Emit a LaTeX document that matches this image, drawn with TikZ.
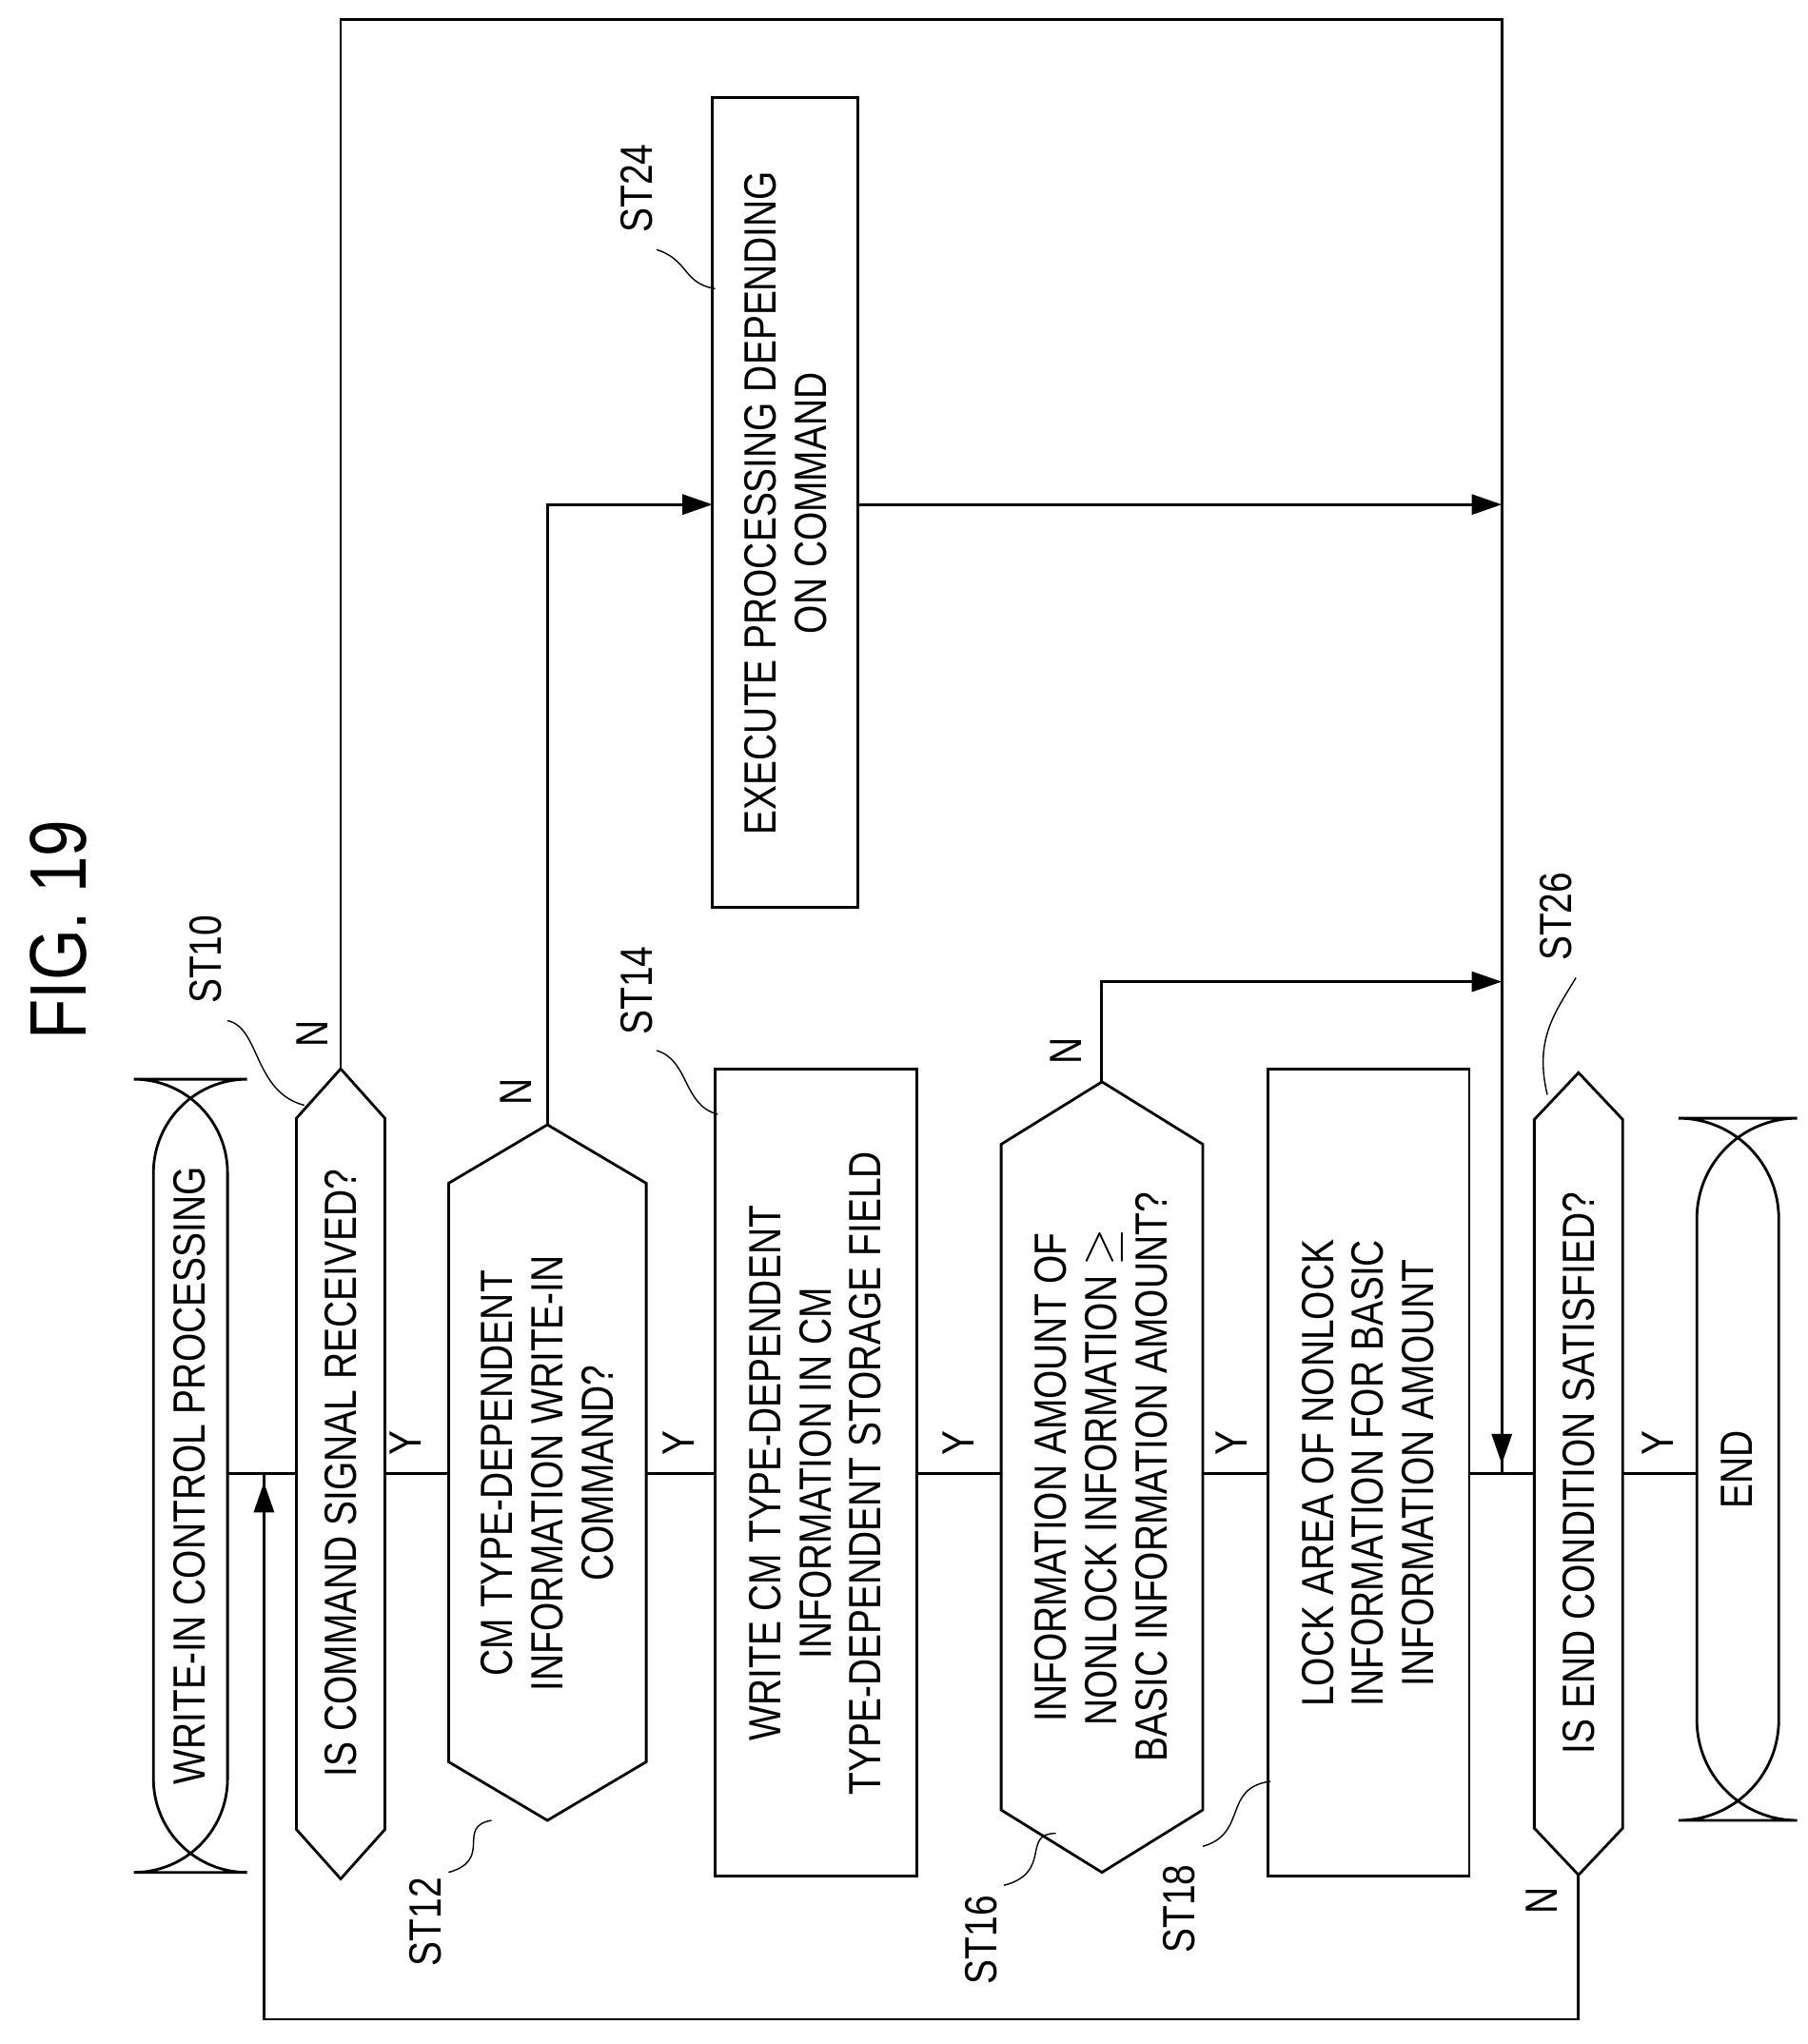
\documentclass[tikz,border=0pt]{standalone}
\usepackage{fontspec}
\setmainfont{Liberation Sans}[FakeStretch=0.82]
\usetikzlibrary{arrows.meta}
\tikzset{font=\fontsize{13.5}{15}\selectfont}
\newcommand\hexbox[5]{\draw[thick] ({#1},{#3+#5}) -- ({(#1+#2)/2},#3) -- ({#2},{#3+#5}) -- ({#2},{#4-#5}) -- ({(#1+#2)/2},#4) -- ({#1},{#4-#5}) -- cycle;}

\begin{document}
\begin{tikzpicture}[x=0.01365cm,y=-0.01365cm,
    txt/.style={rotate=90,align=center,inner sep=0pt},
    lbl/.style={rotate=90,inner sep=1pt},
    flow/.style={thick},
    arr/.style={thick,-{Triangle[length=9pt,width=6pt]}},
    squig/.style={thin}]
  \useasboundingbox (0,0) rectangle (1390,1572);

  \node[txt,font=\fontsize{24}{26}\selectfont] (title) at (45,715) {FIG. 19};

  % shapes
  \draw[thick,rounded corners=28] (118,830) rectangle (175,1440);
  \node[txt] (start) at (146,1135) {WRITE-IN CONTROL PROCESSING};
  \hexbox{228}{296}{822}{1445}{38}
  \node[txt] (st10) at (262,1133) {IS COMMAND SIGNAL RECEIVED?};
  \hexbox{345}{497}{865}{1400}{45}
  \node[txt] (st12) at (421,1133) {CM TYPE-DEPENDENT\\INFORMATION WRITE-IN\\COMMAND?};
  \draw[thick] (550,822) rectangle (705,1443);
  \node[txt] (st14) at (627,1133) {WRITE CM TYPE-DEPENDENT\\INFORMATION IN CM\\TYPE-DEPENDENT STORAGE FIELD};
  \hexbox{770}{925}{832}{1440}{48}
  \node[txt] (st16) at (847,1136) {INFORMATION AMOUNT OF\\NONLOCK INFORMATION $\geq$\\BASIC INFORMATION AMOUNT?};
  \draw[thick] (975,822) rectangle (1130,1443);
  \node[txt] (st18) at (1052,1133) {LOCK AREA OF NONLOCK\\INFORMATION FOR BASIC\\INFORMATION AMOUNT};
  \hexbox{1180}{1248}{825}{1442}{36}
  \node[txt] (st26) at (1214,1133) {IS END CONDITION SATISFIED?};
  \draw[thick,rounded corners=30] (1305,860) rectangle (1368,1400);
  \node[txt] (end) at (1336,1130) {END};
  \draw[thick] (548,75) rectangle (660,698);
  \node[txt] (st24) at (604,387) {EXECUTE PROCESSING DEPENDING\\ON COMMAND};

  % main line
  \draw[flow] (175,1133) -- (228,1133);
  \draw[flow] (296,1133) -- (345,1133);
  \draw[flow] (497,1133) -- (550,1133);
  \draw[flow] (705,1133) -- (770,1133);
  \draw[flow] (925,1133) -- (975,1133);
  \draw[flow] (1130,1133) -- (1180,1133);
  \draw[flow] (1248,1133) -- (1305,1133);

  % branches
  \draw[flow] (262,822) -- (262,15) -- (1155,15) -- (1155,1133);
  \draw[arr] (1155,1050) -- (1155,1126);
  \draw[arr] (421,865) -- (421,388) -- (548,388);
  \draw[arr] (660,388) -- (1155,388);
  \draw[arr] (847,832) -- (847,755) -- (1155,755);
  \draw[flow] (1214,1442) -- (1214,1553) -- (203,1553) -- (203,1133);
  \draw[arr] (203,1200) -- (203,1140);

  % Y / N
  \foreach \px in {312,522,737,947,1275} \node[lbl] at (\px,1110) {Y};
  \node[lbl] at (240,795) {N};
  \node[lbl] at (397,840) {N};
  \node[lbl] at (820,808) {N};
  \node[lbl] at (1186,1462) {N};

  % step labels
  \node[lbl] (l10) at (158,738) {ST10};
  \draw[squig] (175,785) .. controls (200,790) and (195,840) .. (234,850);
  \node[lbl] (l12) at (327,1478) {ST12};
  \draw[squig] (345,1440) .. controls (380,1430) and (350,1405) .. (378,1400);
  \node[lbl] (l14) at (490,762) {ST14};
  \draw[squig] (505,808) .. controls (530,815) and (525,850) .. (552,857);
  \node[lbl] (l16) at (755,1492) {ST16};
  \draw[squig] (772,1450) .. controls (810,1440) and (785,1410) .. (812,1410);
  \node[lbl] (l18) at (907,1468) {ST18};
  \draw[squig] (925,1420) .. controls (960,1410) and (940,1375) .. (977,1370);
  \node[lbl] (l24) at (490,145) {ST24};
  \draw[squig] (505,192) .. controls (530,200) and (525,218) .. (550,222);
  \node[lbl] (l26) at (1197,705) {ST26};
  \draw[squig] (1212,752) .. controls (1195,780) and (1180,800) .. (1190,842);
\end{tikzpicture}
\end{document}
